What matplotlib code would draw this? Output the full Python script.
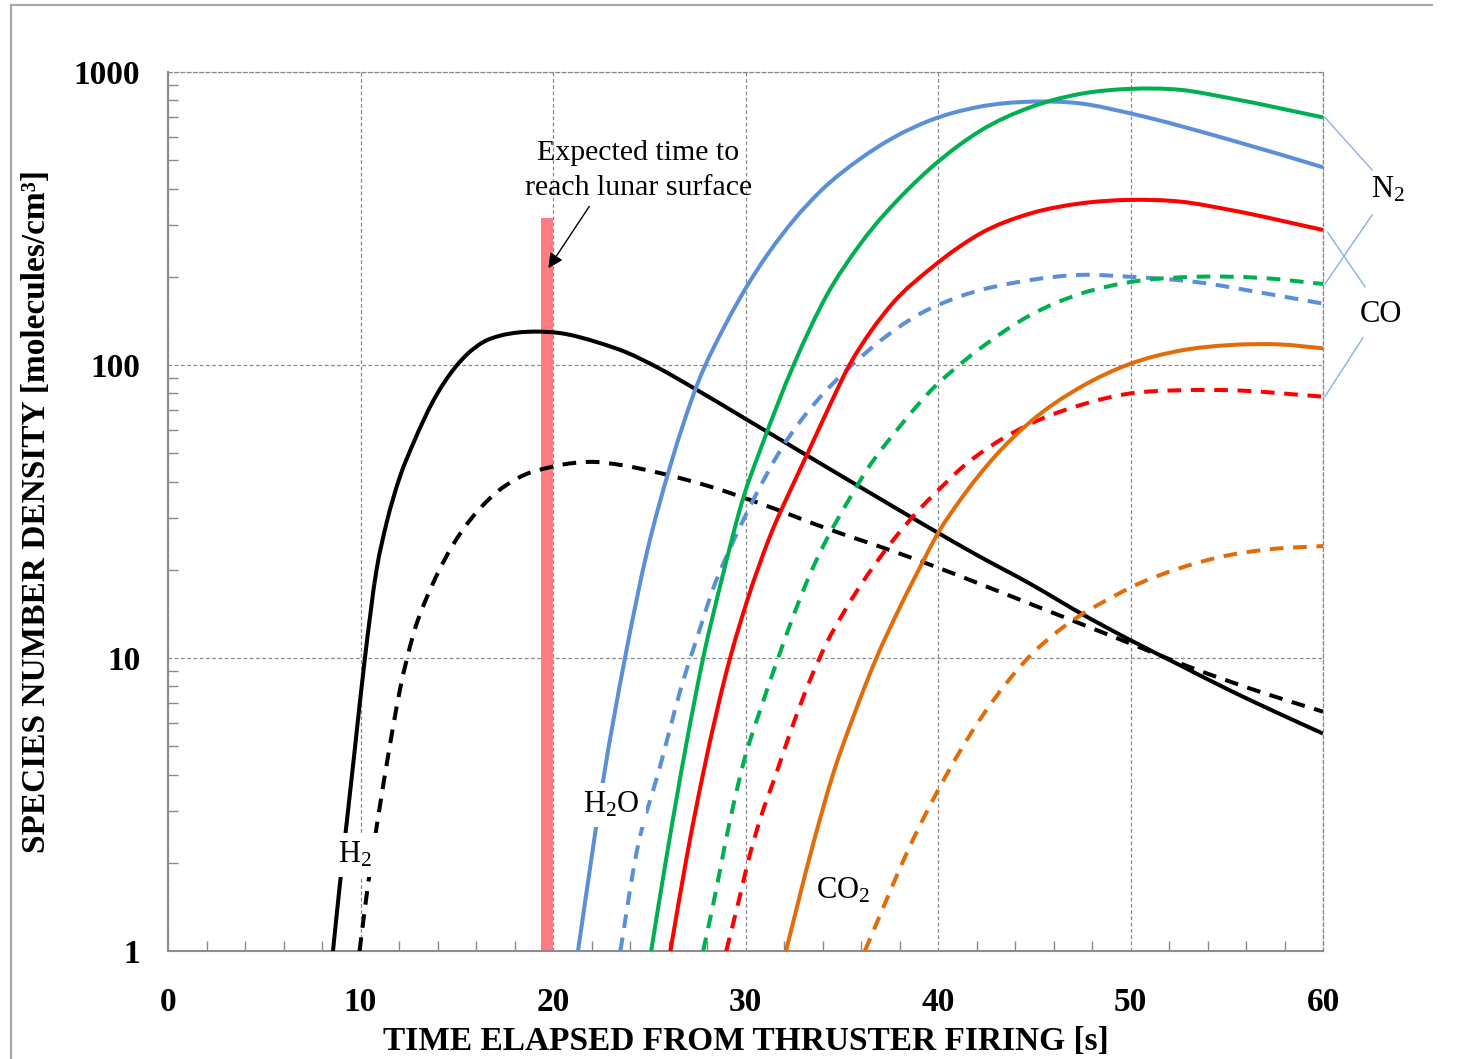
import matplotlib
matplotlib.use("Agg")
import numpy as np
import matplotlib.pyplot as plt
from matplotlib.ticker import FixedLocator, MultipleLocator, LogLocator, FuncFormatter, NullFormatter
from matplotlib.lines import Line2D
from matplotlib.path import Path
from matplotlib.patches import PathPatch

plt.rcParams['font.family'] = ['Liberation Serif', 'DejaVu Serif']
plt.rcParams['mathtext.default'] = 'regular'

# ---------------- data ----------------
h2_t   = [8.57, 8.9, 9.28, 9.63, 10.23, 10.84, 11.36, 12.05, 12.74, 13.78, 14.91, 15.52, 16.4, 17.27, 18.14, 19.0, 20.36, 22.4, 23.8, 25.5, 27.3, 30.0, 33.2, 36.5, 39.6, 42.0, 44.8, 47.5, 50.0, 52.5, 55.2, 57.5, 60.0]
h2_v   = [1.0, 1.62, 2.73, 4.4, 10.0, 20.1, 29.0, 41.6, 54.0, 75.5, 98.0, 108.5, 120.0, 126.0, 129.0, 130.0, 128.5, 119.0, 110.5, 97.5, 83.5, 65.5, 49.1, 36.5, 27.7, 22.5, 17.9, 14.1, 11.5, 9.5, 7.73, 6.56, 5.52]
h2b_t  = [9.95, 10.4, 10.93, 11.45, 12.05, 12.74, 13.77, 14.8, 16.55, 18.6, 19.67, 20.4, 22.1, 23.5, 25.6, 28.2, 30.75, 34.2, 37.7, 39.6, 44.8, 50.0, 53.1, 56.9, 60.0]
h2b_v  = [1.0, 1.7, 2.9, 4.7, 7.8, 12.0, 18.0, 24.3, 34.2, 42.4, 44.5, 45.6, 46.7, 45.6, 42.7, 38.4, 33.7, 27.7, 23.1, 20.8, 15.3, 11.2, 9.3, 7.6, 6.56]

h2o_t  = [21.3, 22.1, 22.6, 23.74, 24.87, 26.08, 27.5, 29.0, 30.06, 32.5, 34.0, 35.95, 37.7, 39.6, 42.2, 44.8, 47.4, 50.0, 55.2, 60.0]
h2o_v  = [1.0, 2.3, 3.8, 10.0, 22.8, 45.0, 86.0, 139.0, 185.0, 312.0, 398.0, 505.0, 598.0, 684.0, 762.0, 792.0, 781.0, 722.0, 586.0, 473.0]
h2ob_t = [23.5, 24.3, 25.56, 26.77, 27.46, 28.3, 29.4, 30.4, 31.8, 33.9, 35.1, 36.8, 39.1, 41.1, 44.8, 47.4, 50.0, 53.4, 56.9, 60.0]
h2ob_v = [1.0, 2.1, 4.26, 8.4, 11.6, 17.1, 25.3, 34.6, 51.0, 78.0, 94.0, 118.0, 150.0, 171.0, 195.0, 203.0, 200.0, 192.0, 176.0, 162.0]

n2_t   = [25.1, 25.9, 26.9, 27.8, 28.85, 29.9, 30.8, 32.5, 34.2, 35.95, 38.5, 39.6, 41.1, 42.2, 44.8, 47.4, 50.0, 52.6, 55.2, 60.0]
n2_v   = [1.0, 2.1, 4.98, 10.0, 19.5, 35.5, 52.0, 100.0, 172.0, 258.0, 401.0, 469.0, 563.0, 630.0, 758.0, 842.0, 876.0, 869.0, 813.0, 700.0]
n2b_t  = [27.8, 28.3, 29.2, 29.9, 30.75, 31.6, 32.5, 33.35, 34.2, 35.26, 36.3, 38.0, 39.8, 41.1, 42.2, 44.8, 47.4, 50.0, 53.4, 56.9, 60.0]
n2b_v  = [1.0, 1.42, 2.8, 4.4, 6.6, 9.6, 14.0, 19.3, 25.3, 33.7, 43.8, 61.5, 84.0, 100.0, 114.0, 148.0, 175.0, 192.0, 200.0, 198.0, 189.0]

co_t   = [26.1, 26.95, 27.8, 29.2, 30.06, 31.27, 32.5, 33.35, 34.3, 35.4, 36.5, 37.7, 39.6, 41.1, 42.2, 44.8, 47.4, 50.0, 52.6, 55.2, 60.0]
co_v   = [1.0, 2.1, 4.04, 10.0, 15.5, 26.0, 39.5, 52.0, 71.0, 100.0, 130.0, 164.0, 213.0, 253.0, 281.0, 329.0, 356.0, 366.0, 361.0, 338.0, 289.0]
cob_t  = [29.0, 29.7, 30.2, 30.75, 31.6, 32.5, 33.35, 34.2, 35.1, 35.95, 36.8, 37.7, 39.1, 40.3, 41.3, 42.2, 44.8, 47.4, 50.0, 52.6, 55.2, 60.0]
cob_v  = [1.0, 1.53, 2.1, 2.8, 4.04, 6.0, 8.4, 11.2, 14.3, 17.6, 21.2, 25.4, 32.5, 39.0, 45.0, 50.0, 63.0, 73.0, 80.0, 82.0, 82.0, 78.0]

co2_t  = [32.1, 33.5, 34.56, 35.6, 36.8, 38.0, 39.4, 39.9, 41.0, 43.05, 44.8, 47.4, 50.0, 52.6, 55.2, 57.8, 60.0]
co2_v  = [1.0, 2.3, 4.04, 6.3, 10.0, 14.8, 22.5, 26.0, 33.5, 49.5, 64.0, 84.0, 101.0, 112.0, 117.0, 117.5, 114.0]
co2b_t = [36.2, 37.0, 37.7, 38.5, 39.6, 40.4, 41.3, 42.2, 43.56, 44.8, 46.2, 47.4, 49.1, 50.0, 52.6, 55.2, 57.5, 60.0]
co2b_v = [1.0, 1.33, 1.71, 2.25, 3.15, 3.95, 5.0, 6.2, 8.22, 10.2, 12.3, 14.0, 16.2, 17.4, 20.3, 22.5, 23.6, 24.1]

surface_t = [19.7]
surface_v = [318.0]

x_ticks = [0, 10, 20, 30, 40, 50, 60]
y_ticks = [1, 10, 100, 1000]


def smooth_line(ax, t, v, **kw):
    """Smoothed line through the data points: cubic Hermite Bezier segments in (t, log v)."""
    x = np.asarray(t, float)
    y = np.log10(np.asarray(v, float))
    h = np.diff(x)
    d = np.diff(y) / h
    m = np.empty_like(y)
    m[0], m[-1] = d[0], d[-1]
    m[1:-1] = (h[:-1] * d[1:] + h[1:] * d[:-1]) / (h[:-1] + h[1:])
    verts = [(x[0], y[0])]
    codes = [Path.MOVETO]
    for i in range(len(x) - 1):
        verts += [(x[i] + h[i] / 3, y[i] + m[i] * h[i] / 3),
                  (x[i + 1] - h[i] / 3, y[i + 1] - m[i + 1] * h[i] / 3),
                  (x[i + 1], y[i + 1])]
        codes += [Path.CURVE4] * 3
    V = np.array(verts)
    V[:, 1] = 10 ** V[:, 1]
    ax.add_patch(PathPatch(Path(V, codes), fill=False, transform=ax.transData, **kw))


# ---------------- figure ----------------
W, H = 1461, 1059
fig = plt.figure(figsize=(W / 100, H / 100), dpi=100)
ax = fig.add_axes([168 / W, 1 - 951 / H, 1155 / W, 879 / H])

ax.set_yscale('log')
ax.set_xlim(0, 60)
ax.set_ylim(1, 1000)

grid_col = '#8a8a8a'
ax.grid(True, which='major', color=grid_col, lw=0.9, linestyle=(0, (3, 2)))
ax.set_axisbelow(True)

# surface-time bar
ax.bar(surface_t, [v - 1 for v in surface_v], bottom=1, width=0.62,
       color='#FF7C80', zorder=1.5)

lw = 2.9
dash = (0, (3.4, 2.4))
c_blue, c_green, c_red, c_orange = '#5B8FD8', '#00B050', '#FF0000', '#E36C0A'
series = [
    (h2_t, h2_v, 'black', '-'), (h2b_t, h2b_v, 'black', dash),
    (h2o_t, h2o_v, c_blue, '-'), (h2ob_t, h2ob_v, c_blue, dash),
    (n2_t, n2_v, c_green, '-'), (n2b_t, n2b_v, c_green, dash),
    (co_t, co_v, c_red, '-'), (cob_t, cob_v, c_red, dash),
    (co2_t, co2_v, c_orange, '-'), (co2b_t, co2b_v, c_orange, dash),
]
for t, v, c, ls in series:
    smooth_line(ax, t, v, edgecolor=c, lw=lw, linestyle=ls, zorder=3,
                joinstyle='round', capstyle='butt')

# ticks
ax.xaxis.set_major_locator(FixedLocator(x_ticks))
ax.xaxis.set_minor_locator(MultipleLocator(2))
ax.yaxis.set_major_locator(FixedLocator(y_ticks))
ax.yaxis.set_minor_locator(LogLocator(base=10, subs=range(2, 10)))
ax.yaxis.set_minor_formatter(NullFormatter())
ax.xaxis.set_major_formatter(FuncFormatter(lambda x, p: f'{int(x)}'))
ax.yaxis.set_major_formatter(FuncFormatter(lambda y, p: f'{int(round(y))}'))
ax.tick_params(which='both', direction='in', color=grid_col, width=1.0,
               top=False, right=False)
ax.tick_params(which='minor', length=7)
ax.tick_params(which='major', length=0)
ax.tick_params(axis='x', which='major', pad=26, labelsize=24)
ax.tick_params(axis='y', which='major', pad=20, labelsize=24)
for lab in ax.get_xticklabels() + ax.get_yticklabels():
    lab.set_fontweight('bold')

for s in ['left', 'bottom']:
    ax.spines[s].set_color('#8c8c8c')
    ax.spines[s].set_linewidth(1.5)
for s in ['top', 'right']:
    ax.spines[s].set_color(grid_col)
    ax.spines[s].set_linewidth(0.9)
    ax.spines[s].set_linestyle((0, (3, 2)))

ax.set_xlabel('TIME ELAPSED FROM THRUSTER FIRING [s]', fontsize=24,
              fontweight='bold', va='center')
ax.xaxis.set_label_coords(0.5, (951 - 1042) / 879)
ax.set_ylabel('SPECIES NUMBER DENSITY [molecules/cm³]', fontsize=24,
              fontweight='bold', va='center')
ax.yaxis.set_label_coords((37 - 168) / 1155, 0.5)

# in-plot labels
box = dict(facecolor='white', edgecolor='none', pad=5)
ax.text(9.71, 2.13, 'H$_2$', fontsize=22, ha='center', va='center', bbox=box, zorder=5)
ax.text(23.0, 3.15, 'H$_2$O', fontsize=22, ha='center', va='center', bbox=box, zorder=5)
ax.text(35.06, 1.61, 'CO$_2$', fontsize=22, ha='center', va='center', bbox=box, zorder=5)
ax.text(63.4, 396, 'N$_2$', fontsize=22, ha='center', va='center', clip_on=False)
ax.text(63.0, 149, 'CO', fontsize=22, ha='center', va='center', clip_on=False)

# leader lines
lead_col = '#8DB0E0'
ax.plot([60.1, 62.55], [n2_v[-1], 463], color=lead_col, lw=1.0, clip_on=False)
ax.plot([60.1, 62.55], [n2b_v[-1], 325], color=lead_col, lw=1.0, clip_on=False)
ax.plot([60.25, 62.18], [co_v[-1] * 0.98, 185], color=lead_col, lw=1.0, clip_on=False)
ax.plot([60.1, 62.08], [cob_v[-1], 124], color=lead_col, lw=1.0, clip_on=False)

# annotation
ax.annotate('Expected time to\nreach lunar surface', xy=(19.76, 214), xytext=(24.42, 460),
            fontsize=21.5, ha='center', va='center', linespacing=1.45,
            arrowprops=dict(arrowstyle='-|>', color='black', lw=1.0,
                            mutation_scale=22, shrinkA=2, shrinkB=0,
                            relpos=(0.3, 0.0)),
            zorder=6)

# figure frame (partially visible)
fig.add_artist(Line2D([11 / W, 1432 / W], [1 - 5 / H, 1 - 5 / H], color='#a6a6a6', lw=1.5))
fig.add_artist(Line2D([11 / W, 11 / W], [0, 1 - 5 / H], color='#a6a6a6', lw=1.5))

fig.savefig('out.png', dpi=100)
